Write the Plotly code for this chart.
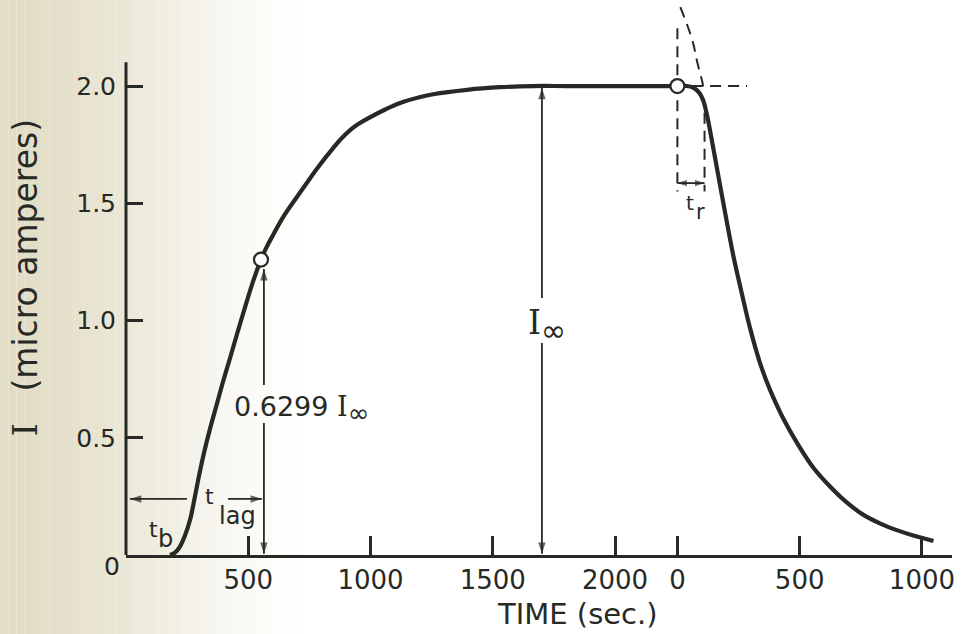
import plotly.graph_objects as go

# ---------------------------------------------------------------- data
# Permeation transient: build-up from t = 0, then the decay transient
# plotted against a second time origin further along the same axis.
DECAY_ORIGIN = 2255          # axis position of the second "0"
I_INF = 2.0                  # steady-state current (micro amperes)
LAG_FRACTION = 0.6299        # I / I_inf at t = t_lag
T_LAG = 552                  # seconds
T_R = 111                    # breakthrough delay of the decay transient (s)

rise_t = [180, 200, 220, 240, 262, 282, 300, 320, 344, 372, 397, 425, 452,
          479, 519, T_LAG, 575, 600, 642, 699, 740, 790, 847, 880, 920, 950,
          986, 1060, 1121, 1200, 1256, 1395, 1530, 1665, 1800, 2000]
rise_i = [0.0, 0.01, 0.035, 0.08, 0.15, 0.25, 0.345, 0.44, 0.54, 0.645, 0.74,
          0.838, 0.935, 1.03, 1.165, LAG_FRACTION * I_INF, 1.313, 1.362, 1.44,
          1.527, 1.588, 1.66, 1.735, 1.775, 1.815, 1.838, 1.86, 1.90, 1.928,
          1.952, 1.965, 1.984, 1.995, 2.0, 2.0, 2.0]

decay_t = [0, 40, 70, 90, 105, 118, 130, 145, 160, 180, 205, 230, 258, 280,
           299, 320, 339, 365, 393, 434, 491, 556, 626, 695, 761, 830, 900,
           965, 1047]
decay_i = [2.0, 2.0, 1.99, 1.97, 1.94, 1.89, 1.83, 1.745, 1.66, 1.545, 1.405,
           1.27, 1.14, 1.04, 0.96, 0.88, 0.815, 0.74, 0.67, 0.58, 0.475,
           0.372, 0.29, 0.222, 0.171, 0.134, 0.105, 0.083, 0.06]

# extrapolated (dashed) decay near the second origin
extrap_t = [12, 61, 82, 102, 108]
extrap_i = [2.337, 2.196, 2.098, 2.017, 1.98]

rise_ticks = [500, 1000, 1500, 2000]
decay_ticks = [0, 500, 1000]
tick_labels = ["500", "1000", "1500", "2000", "0", "500", "1000"]
y_ticks = [0.5, 1.0, 1.5, 2.0]
y_tick_labels = ["0.5", "1.0", "1.5", "2.0"]

# ---------------------------------------------------------------- style
INK = "#272924"
FONT = "DejaVu Sans"
SERIF = "DejaVu Serif"
X_MAX = 3378
Y_MAX = 2.367

fig = go.Figure()


def line(xs, ys, width=2, dash=None, shape="linear"):
    fig.add_trace(go.Scatter(x=xs, y=ys, mode="lines", hoverinfo="skip",
                             line=dict(color=INK, width=width, dash=dash,
                                       shape=shape)))


t_all = rise_t + [DECAY_ORIGIN + t for t in decay_t]
i_all = rise_i + decay_i
line(t_all, i_all, width=4.2, shape="spline")

DASH = "11px,7px"
# dashed construction lines for t_r
line([DECAY_ORIGIN, DECAY_ORIGIN], [2.247, 1.55], dash=DASH)
line([DECAY_ORIGIN + T_R, DECAY_ORIGIN + T_R], [1.886, 1.55], dash=DASH)
line([DECAY_ORIGIN + 60, DECAY_ORIGIN + 285], [I_INF, I_INF], dash=DASH)
line([DECAY_ORIGIN + t for t in extrap_t], extrap_i, dash=DASH,
     shape="spline")

# ---------------------------------------------------------------- arrows
# each arrow: shaft from tail to tip, head drawn as an "arrow" marker
heads_x, heads_y, heads_a, heads_s = [], [], [], []


def arrow(tail, tip, both=False, size=12):
    line([tail[0], tip[0]], [tail[1], tip[1]], width=1.8)
    ends = [(tip, tail)] + ([(tail, tip)] if both else [])
    for p, q in ends:
        heads_x.append(p[0])
        heads_y.append(p[1])
        heads_s.append(size)
        if p[0] == q[0]:
            heads_a.append(0 if p[1] > q[1] else 180)
        else:
            heads_a.append(90 if p[0] > q[0] else 270)


y_lag_arrow = 0.239
arrow((249, y_lag_arrow), (16, y_lag_arrow))
arrow((417, y_lag_arrow), (556, y_lag_arrow))
arrow((564, 0.725), (564, LAG_FRACTION * I_INF - 0.04))
arrow((564, 0.563), (564, 0.005))
arrow((1701, 1.096), (1701, I_INF - 0.008))
arrow((1701, 0.904), (1701, 0.005))
arrow((DECAY_ORIGIN, 1.586), (DECAY_ORIGIN + T_R, 1.586), both=True, size=10)

fig.add_trace(go.Scatter(x=heads_x, y=heads_y, mode="markers",
                         hoverinfo="skip", cliponaxis=False,
                         marker=dict(symbol="arrow", size=heads_s,
                                     angle=heads_a, color=INK,
                                     line=dict(width=0))))

# open circles at t_lag and at the start of the decay
fig.add_trace(go.Scatter(x=[T_LAG, DECAY_ORIGIN],
                         y=[LAG_FRACTION * I_INF, I_INF], mode="markers",
                         hoverinfo="skip", cliponaxis=False,
                         marker=dict(symbol="circle", size=14, color="white",
                                     line=dict(color=INK, width=2.2))))


# ---------------------------------------------------------------- labels
def label(text, x, y, size=24, xanchor="center", xref="x", yref="y",
          angle=0):
    return dict(text=text, x=x, y=y, xref=xref, yref=yref, showarrow=False,
                xanchor=xanchor, yanchor="middle", textangle=angle,
                font=dict(family=FONT, size=size, color=INK))


def i_inf(inf_size):
    return ('<span style="font-family:%s">I</span>'
            '<sub><span style="font-size:%dpx">∞</span></sub>'
            % (SERIF, inf_size))


serif_i = '<span style="font-family:%s">I</span>' % SERIF
annotations = [
    label("0.6299 " + i_inf(26), 433, 0.62, size=27, xanchor="left"),
    label(i_inf(30), 1722, 0.98, size=33),
    label("t", 343, 0.25, size=22),
    label("lag", 455, 0.167, size=24),
    label("t", 111, 0.11, size=22),
    label("b", 160, 0.068, size=24),
    label("t", 2308, 1.50, size=20),
    label("r", 2348, 1.465, size=21),
    label("0", -0.017, -0.0216, size=25, xref="paper", yref="paper"),
    label("TIME (sec.)", 1848, -0.1063, size=29, yref="paper"),
    label(serif_i + "   (micro amperes)", -0.1223, 1.185, size=33,
          xref="paper", angle=-90),
]

# ---------------------------------------------------------------- paper tint
shapes = []
n_strips = 40
left_px, right_px, plot_left, plot_w = 0, 330, 126, 826
for k in range(n_strips):
    x0 = left_px + (right_px - left_px) * k / n_strips
    x1 = left_px + (right_px - left_px) * (k + 1) / n_strips
    u = (k + 0.5) / n_strips
    a = 1 - (3 * u * u - 2 * u * u * u)
    shapes.append(dict(type="rect", xref="paper", yref="paper",
                       x0=(x0 - plot_left) / plot_w, x1=(x1 - plot_left) / plot_w,
                       y0=-0.15, y1=1.0, line=dict(width=0),
                       fillcolor="rgba(226,221,198,%.3f)" % a, layer="below"))

# left axis line (stops below the top of the plotting area)
shapes.append(dict(type="line", xref="paper", yref="y", x0=0, x1=0, y0=0,
                   y1=2.102, line=dict(color=INK, width=3)))

fig.update_layout(
    width=964, height=634,
    margin=dict(l=126, r=12, t=0, b=79),
    paper_bgcolor="white", plot_bgcolor="rgba(0,0,0,0)",
    showlegend=False,
    annotations=annotations,
    shapes=shapes,
    xaxis=dict(range=[0, X_MAX], showgrid=False, zeroline=False,
               showline=True, linecolor=INK, linewidth=3,
               ticks="inside", ticklen=19, tickwidth=2.5, tickcolor=INK,
               tickvals=rise_ticks + [DECAY_ORIGIN + t for t in decay_ticks],
               ticktext=tick_labels, ticklabelstandoff=0,
               tickfont=dict(family=FONT, size=26, color=INK)),
    yaxis=dict(range=[0, Y_MAX], showgrid=False, zeroline=False,
               showline=False, ticks="inside", ticklen=17, tickwidth=2.5,
               tickcolor=INK, tickvals=y_ticks, ticktext=y_tick_labels,
               ticklabelstandoff=9,
               tickfont=dict(family=FONT, size=25, color=INK)),
)

fig.write_html("out.html")
